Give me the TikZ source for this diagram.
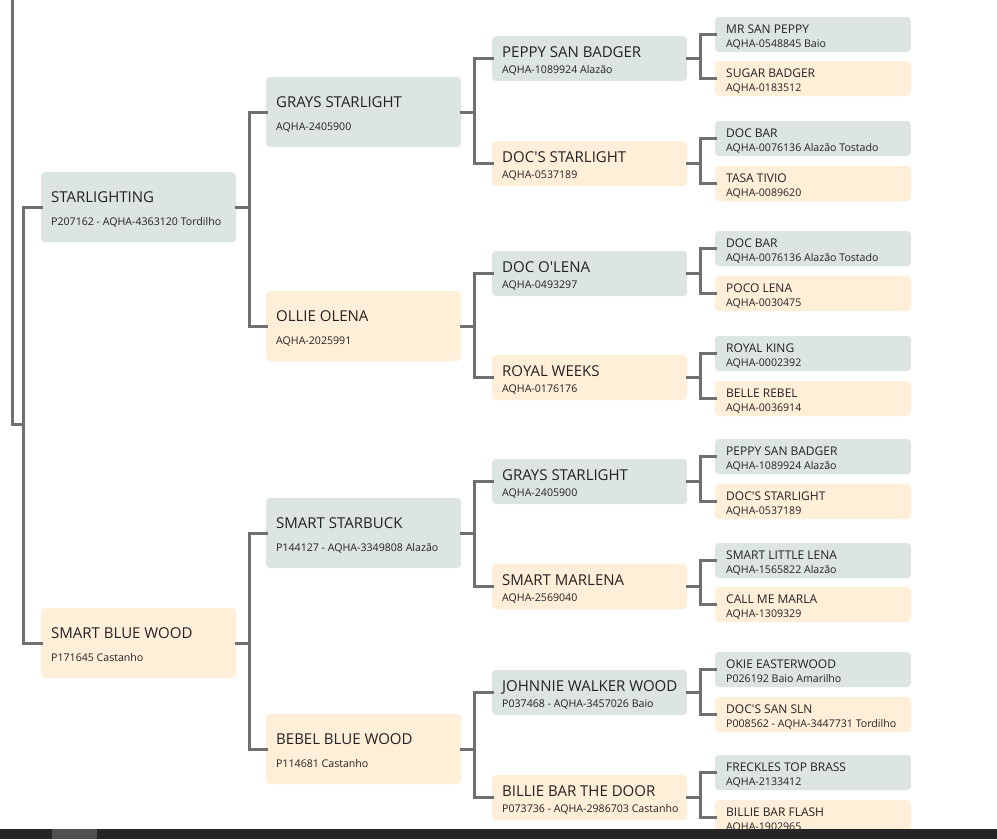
\documentclass[tikz,border=0pt]{standalone}
\usepackage{fontspec}
\setmainfont{Open Sans}[Ligatures=TeXOff]
\usetikzlibrary{calc}
\definecolor{grn}{HTML}{DCE5E0}
\definecolor{org}{HTML}{FFEFD9}
\definecolor{lncol}{HTML}{707070}
\definecolor{txtcol}{HTML}{222222}
\definecolor{barcol}{HTML}{262626}
\tikzset{
  box/.style={draw=none,rounded corners=4pt,inner sep=0pt,outer sep=0pt,anchor=north west},
  tbig/.style={inner sep=0pt,anchor=base west,text=txtcol,font=\fontsize{15}{18}\selectfont},
  tmid/.style={inner sep=0pt,anchor=base west,text=txtcol,font=\fontsize{12}{14}\selectfont},
  tsub/.style={inner sep=0pt,anchor=base west,text=txtcol,font=\fontsize{10.6}{13}\selectfont},
  conn/.style={draw=lncol,line width=3pt,line cap=rect}
}
% #1 name, #2 x, #3 y, #4 colour, #5 title, #6 subtitle
\newcommand{\horseA}[6]{%
  \node[box,fill=#4,minimum width=195pt,minimum height=70pt] (#1) at (#2,#3) {};
  \node[tbig] (#1t) at ($(#1.north west)+(10,30)$) {#5};
  \node[tsub] (#1s) at ($(#1.north west)+(10,53)$) {#6};}
\newcommand{\horseC}[6]{%
  \node[box,fill=#4,minimum width=195pt,minimum height=45pt] (#1) at (#2,#3) {};
  \node[tbig] (#1t) at ($(#1.north west)+(10,21)$) {#5};
  \node[tsub] (#1s) at ($(#1.north west)+(10,37)$) {#6};}
\newcommand{\horseD}[6]{%
  \node[box,fill=#4,minimum width=196pt,minimum height=35pt] (#1) at (#2,#3) {};
  \node[tmid] (#1t) at ($(#1.north west)+(11,16)$) {#5};
  \node[tsub] (#1s) at ($(#1.north west)+(11,30)$) {#6};}
\begin{document}
\begin{tikzpicture}[x=1pt,y=-1pt]
\useasboundingbox (0,0) rectangle (997,839);
\fill[white] (0,0) rectangle (997,839);
% generation 1
\horseA{a1}{41}{172}{grn}{STARLIGHTING}{P207162 - AQHA-4363120 Tordilho}
\horseA{a2}{41}{608}{org}{SMART BLUE WOOD}{P171645 Castanho}
% generation 2
\horseA{b1}{266}{77}{grn}{GRAYS STARLIGHT}{AQHA-2405900}
\horseA{b2}{266}{291}{org}{OLLIE OLENA}{AQHA-2025991}
\horseA{b3}{266}{498}{grn}{SMART STARBUCK}{P144127 - AQHA-3349808 Alazão}
\horseA{b4}{266}{714}{org}{BEBEL BLUE WOOD}{P114681 Castanho}
% generation 3
\horseC{c1}{492}{36}{grn}{PEPPY SAN BADGER}{AQHA-1089924 Alazão}
\horseC{c2}{492}{141}{org}{DOC'S STARLIGHT}{AQHA-0537189}
\horseC{c3}{492}{251}{grn}{DOC O'LENA}{AQHA-0493297}
\horseC{c4}{492}{355}{org}{ROYAL WEEKS}{AQHA-0176176}
\horseC{c5}{492}{459}{grn}{GRAYS STARLIGHT}{AQHA-2405900}
\horseC{c6}{492}{564}{org}{SMART MARLENA}{AQHA-2569040}
\horseC{c7}{492}{670}{grn}{JOHNNIE WALKER WOOD}{P037468 - AQHA-3457026 Baio}
\horseC{c8}{492}{775}{org}{BILLIE BAR THE DOOR}{P073736 - AQHA-2986703 Castanho}
% generation 4
\horseD{d1}{715}{17}{grn}{MR SAN PEPPY}{AQHA-0548845 Baio}
\horseD{d2}{715}{61}{org}{SUGAR BADGER}{AQHA-0183512}
\horseD{d3}{715}{121}{grn}{DOC BAR}{AQHA-0076136 Alazão Tostado}
\horseD{d4}{715}{166}{org}{TASA TIVIO}{AQHA-0089620}
\horseD{d5}{715}{231}{grn}{DOC BAR}{AQHA-0076136 Alazão Tostado}
\horseD{d6}{715}{276}{org}{POCO LENA}{AQHA-0030475}
\horseD{d7}{715}{336}{grn}{ROYAL KING}{AQHA-0002392}
\horseD{d8}{715}{381}{org}{BELLE REBEL}{AQHA-0036914}
\horseD{d9}{715}{439}{grn}{PEPPY SAN BADGER}{AQHA-1089924 Alazão}
\horseD{d10}{715}{484}{org}{DOC'S STARLIGHT}{AQHA-0537189}
\horseD{d11}{715}{543}{grn}{SMART LITTLE LENA}{AQHA-1565822 Alazão}
\horseD{d12}{715}{587}{org}{CALL ME MARLA}{AQHA-1309329}
\horseD{d13}{715}{652}{grn}{OKIE EASTERWOOD}{P026192 Baio Amarilho}
\horseD{d14}{715}{697}{org}{DOC'S SAN SLN}{P008562 - AQHA-3447731 Tordilho}
\horseD{d15}{715}{755}{grn}{FRECKLES TOP BRASS}{AQHA-2133412}
\horseD{d16}{715}{800}{org}{BILLIE BAR FLASH}{AQHA-1902965}
% connectors: root (off the picture) to generation 1
\coordinate (rtop) at (12,-2);
\coordinate (rj) at (23,424.5);
\draw[conn] (rtop) |- (rj);
\draw[conn] (a1.west) -| (rj);
\draw[conn] (a2.west) -| (rj);
% generation 1 to 2
\foreach \p/\c in {a1/b1,a1/b2,a2/b3,a2/b4}
  \draw[conn] (\p.east) -- ++(13,0) |- (\c.west);
% generation 2 to 3
\foreach \p/\c in {b1/c1,b1/c2,b2/c3,b2/c4,b3/c5,b3/c6,b4/c7,b4/c8}
  \draw[conn] (\p.east) -- ++(13,0) |- (\c.west);
% generation 3 to 4
\foreach \p/\c in {c1/d1,c1/d2,c2/d3,c2/d4,c3/d5,c3/d6,c4/d7,c4/d8,c5/d9,c5/d10,c6/d11,c6/d12,c7/d13,c7/d14,c8/d15,c8/d16}
  \draw[conn] (\p.east) -- ++(13,0) |- (\c.west);
% bottom bar of the screen
\fill[barcol] (0,829) rectangle (997,839);
\fill[barcol!80!white] (52,829) rectangle (97,839);
\end{tikzpicture}
\end{document}
